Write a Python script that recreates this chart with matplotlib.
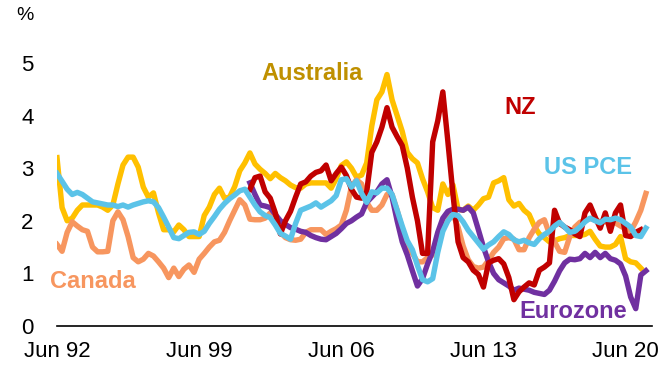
import numpy as np
import pandas as pd
import matplotlib
matplotlib.use("Agg")
import matplotlib.pyplot as plt

plt.rcParams['font.family'] = ['Liberation Sans', 'DejaVu Sans']

# quarterly, Jun 1992 onwards (core inflation, % y/y)
quarters = pd.period_range('1992Q2', periods=117, freq='Q')

australia = [3.2, 2.25, 2.0, 2.05, 2.2, 2.3, 2.3, 2.3, 2.3, 2.26, 2.2, 2.3,
             2.7, 3.06, 3.21, 3.21, 3.02, 2.64, 2.45, 2.53, 2.15, 1.83, 1.83, 1.79,
             1.92, 1.83, 1.7, 1.7, 1.7, 2.1, 2.26, 2.5, 2.62, 2.43, 2.45, 2.65,
             2.95, 3.1, 3.29, 3.08, 2.98, 2.9, 2.8, 2.9, 2.82, 2.76, 2.68, 2.63,
             2.62, 2.7, 2.72, 2.72, 2.72, 2.72, 2.62, 2.8, 3.05, 3.12, 3.0, 2.83,
             2.87, 3.1, 3.8, 4.3, 4.45, 4.78, 4.3, 4.0, 3.7, 3.3, 3.18, 3.1,
             2.8, 2.55, 2.25, 2.2, 2.7, 2.5, 2.68, 2.22, 2.2, 2.28, 2.2, 2.3,
             2.42, 2.45, 2.72, 2.76, 2.82, 2.4, 2.28, 2.33, 2.2, 2.12, 1.9, 1.75,
             1.68, 1.6, 1.62, 1.66, 1.68, 1.72, 1.72, 1.72, 1.74, 1.8, 1.65, 1.52,
             1.5, 1.5, 1.55, 1.7, 1.28, 1.22, 1.2, 1.1]

us_pce = [2.9, 2.75, 2.6, 2.5, 2.54, 2.5, 2.43, 2.36, 2.34, 2.32, 2.3, 2.3,
          2.27, 2.3, 2.26, 2.3, 2.33, 2.36, 2.38, 2.36, 2.25, 2.07, 1.88, 1.68,
          1.66, 1.72, 1.78, 1.79, 1.74, 1.8, 1.95, 2.08, 2.22, 2.33, 2.42, 2.49,
          2.57, 2.6, 2.45, 2.3, 2.17, 2.1, 2.06, 1.92, 1.76, 1.71, 1.65, 1.95,
          2.2, 2.24, 2.28, 2.34, 2.26, 2.32, 2.38, 2.48, 2.78, 2.8, 2.64, 2.76,
          2.52, 2.35, 2.55, 2.53, 2.62, 2.62, 2.5, 2.2, 1.9, 1.62, 1.45, 1.15,
          0.88, 0.84, 0.9, 1.4, 1.8, 2.0, 2.12, 2.1, 1.98, 1.82, 1.7, 1.58,
          1.46, 1.54, 1.6, 1.7, 1.79, 1.74, 1.64, 1.6, 1.63, 1.58, 1.55, 1.66,
          1.74, 1.8, 1.9, 1.97, 1.88, 1.78, 1.8, 1.88, 1.98, 2.05, 2.0, 1.96,
          2.03, 2.02, 2.05, 2.02, 1.95, 1.88, 1.72, 1.7, 1.86]

canada = [1.55, 1.42, 1.78, 1.98, 1.9, 1.83, 1.8, 1.5, 1.41, 1.41, 1.42, 2.0,
          2.17, 2.02, 1.7, 1.3, 1.22, 1.27, 1.38, 1.33, 1.22, 1.1, 0.92, 1.1,
          0.94, 1.08, 1.16, 1.02, 1.27, 1.38, 1.5, 1.6, 1.63, 1.78, 2.0, 2.2,
          2.4, 2.3, 2.03, 2.02, 2.02, 2.05, 2.15, 1.95, 1.78, 1.68, 1.64, 1.63,
          1.65, 1.78, 1.83, 1.83, 1.83, 1.74, 1.8, 1.85, 1.92, 2.2, 2.65, 2.78,
          2.7, 2.35, 2.2, 2.2, 2.3, 2.5, 2.5, 2.2, 1.85, 1.55, 1.38, 1.22,
          1.22, 1.3, 1.35, 1.55, 1.95, 2.1, 2.12, 1.88, 1.52, 1.26, 1.13, 1.1,
          1.12, 1.25, 1.4, 1.5, 1.66, 1.68, 1.65, 1.45, 1.45, 1.68, 1.84, 1.97,
          2.02, 1.75, 1.6, 1.42, 1.4, 1.7, 1.88, 1.97, 2.01, 2.04, 2.02, 1.98,
          1.98, 1.98, 1.96, 1.9, 1.85, 1.8, 1.98, 2.2, 2.52]

# NZ and Eurozone start Dec 2001
nz = [2.6, 2.82, 2.85, 2.55, 2.43, 2.15, 1.75, 2.0, 2.18, 2.45,
      2.7, 2.74, 2.85, 2.92, 2.95, 3.06, 2.76, 2.9, 3.02, 2.86, 2.6, 2.45,
      2.43, 2.55, 3.3, 3.5, 3.78, 4.15, 3.78, 3.6, 3.43, 3.0, 2.45, 2.0,
      1.38, 1.38, 3.5, 3.9, 4.45, 3.5, 2.5, 1.6, 1.3, 1.22, 1.06, 0.98,
      0.74, 1.2, 1.25, 1.28, 1.18, 0.92, 0.5, 0.65, 0.74, 0.82, 0.78, 1.06,
      1.12, 1.2, 2.2, 1.95, 1.88, 1.83, 1.75, 1.7, 2.15, 2.3, 2.07, 1.86,
      2.15, 1.8, 2.15, 2.3, 1.72, 1.7, 1.78, 1.83]

eurozone = [2.72, 2.5, 2.3, 2.28, 2.25, 2.12, 2.0, 1.93, 1.87, 1.84,
            1.8, 1.78, 1.72, 1.68, 1.65, 1.64, 1.7, 1.76, 1.85, 1.95, 2.0, 2.07,
            2.13, 2.35, 2.45, 2.55, 2.7, 2.78, 2.45, 2.0, 1.6, 1.35, 1.05, 0.76,
            0.9, 1.18, 1.42, 1.78, 2.05, 2.18, 2.22, 2.22, 2.2, 2.26, 2.15, 1.83,
            1.5, 1.22, 1.0, 0.88, 0.82, 0.76, 0.68, 0.72, 0.7, 0.68, 0.64, 0.62,
            0.6, 0.68, 0.85, 1.05, 1.2, 1.27, 1.26, 1.28, 1.38, 1.3, 1.4, 1.3,
            1.38, 1.28, 1.25, 1.18, 0.95, 0.55, 0.33, 0.97, 1.05]

late_start = 38
tick_idx = [0, 28, 56, 84, 112]
tick_labels = ['Jun ' + quarters[i].strftime('%y') for i in tick_idx]

c_aus = '#FFC000'
c_nz = '#C00000'
c_us = '#5BC3E8'
c_can = '#F7965F'
c_eur = '#7030A0'

fig = plt.figure(figsize=(6.62, 3.68), dpi=100)
ax = fig.add_axes([57 / 662, 42 / 368, 595 / 662, 294.6 / 368])

x_all = np.arange(len(quarters))
lw = 3.9
ax.plot(x_all[:len(australia)], australia, color=c_aus, lw=lw, zorder=2)
ax.plot(x_all[:len(canada)], canada, color=c_can, lw=lw, zorder=3)
ax.plot(x_all[late_start:late_start + len(eurozone)], eurozone, color=c_eur, lw=lw, zorder=4)
ax.plot(x_all[late_start:late_start + len(nz)], nz, color=c_nz, lw=lw, zorder=5)
ax.plot(x_all[:len(us_pce)], us_pce, color=c_us, lw=lw, zorder=6)

ax.set_xlim(0, 117.2)
ax.set_ylim(0, 5.6)
ax.set_yticks(range(6))
ax.set_xticks(tick_idx)
ax.set_xticklabels(tick_labels)
ax.tick_params(axis='y', length=0, pad=17, labelsize=16)
ax.tick_params(axis='x', length=0, pad=11, labelsize=16)
for s in ['left', 'right', 'top']:
    ax.spines[s].set_visible(False)
ax.spines['bottom'].set_linewidth(1.2)
ax.spines['bottom'].set_color('black')

fig.text(25 / 662, 1 - 15 / 368, '%', ha='center', va='center', fontsize=14)

lab = dict(fontsize=17, fontweight='bold', ha='center', va='center')
fig.text(312 / 662, 1 - 74 / 368, 'Australia', color='#BF9000', **lab)
fig.text(520 / 662, 1 - 108 / 368, 'NZ', color=c_nz, **lab)
fig.text(588 / 662, 1 - 168 / 368, 'US PCE', color=c_us, **lab)
fig.text(93 / 662, 1 - 282 / 368, 'Canada', color=c_can, **lab)
fig.text(573 / 662, 1 - 312 / 368, 'Eurozone', color=c_eur, **lab)

fig.savefig('out.png', dpi=100)
